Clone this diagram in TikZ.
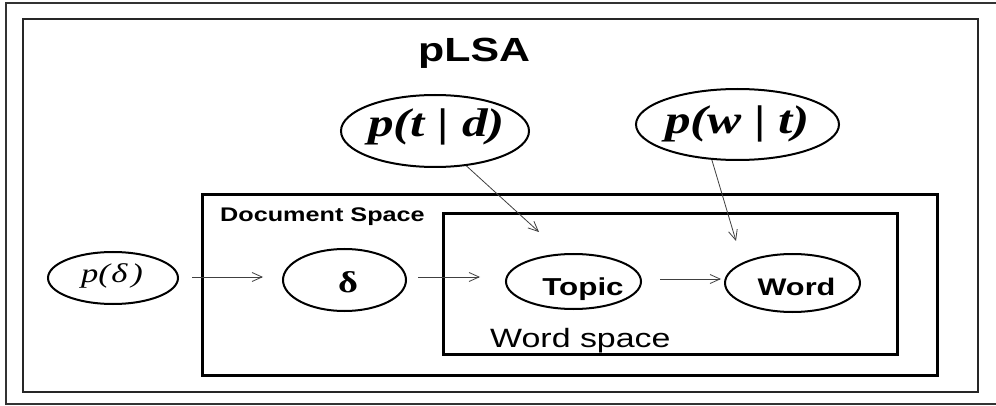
\documentclass[tikz,border=0pt]{standalone}
\usepackage{fontspec}
\usetikzlibrary{shapes.geometric,arrows.meta}
% wide-set faces for the labels
\newfontfamily\sansw{Liberation Sans}[FakeStretch=1.28]
\newfontfamily\serifw{Liberation Serif}[FakeStretch=1.28]
\newcommand{\fsz}[1]{\fontsize{#1}{#1}\selectfont}

\begin{document}
\begin{tikzpicture}[x=1pt,y=-1pt,
  oval/.style={ellipse, draw=black, line width=2pt, inner sep=0pt},
  plate/.style={draw=black, line width=3pt},
  arr/.style={draw=black!75, line width=0.8pt, -{Straight Barb[length=10pt,width=9pt]}},
  lbl/.style={inner sep=0pt, anchor=base},
  lblw/.style={inner sep=0pt, anchor=base west}]
\useasboundingbox (0,0) rectangle (996,406);
\fill[white] (0,0) rectangle (996,406);

% frames
\draw[line width=1.4pt, black!80] (1000,3) -- (6,3) -- (6,404) -- (1000,404);
\draw[line width=1.1pt, black!85] (23,19) rectangle (978,392);

% plates
\draw[plate] (202,195) rectangle (937,375);
\draw[plate] (443,214) rectangle (897,354);

% titles
\node[lblw] (title) at (418,62) {\sansw\bfseries\fsz{33.5}pLSA};
\node[lblw] (docspace) at (220,222) {\sansw\bfseries\fsz{19.7}Document Space};
\node[lblw] (wordspace) at (490,347) {\sansw\fsz{26.5}Word space};

% variables
\node[oval, minimum width=188pt, minimum height=72pt] (ptd) at (435,131) {};
\node[oval, minimum width=203pt, minimum height=71pt] (pwt) at (737.5,124.5) {};
\node[oval, minimum width=130pt, minimum height=52pt] (pd) at (113,278) {};
\node[oval, minimum width=123pt, minimum height=62pt] (delta) at (344.5,280) {};
\node[oval, minimum width=135pt, minimum height=55pt] (topic) at (573.5,281.5) {};
\node[oval, minimum width=135pt, minimum height=58pt] (word) at (792.5,283) {};

\node[lbl] (ptdtext) at (436.5,137) {\serifw\bfseries\itshape\fsz{40}p(t {\upshape|} d)};
\node[lbl] (pwttext) at (737.5,134) {\serifw\bfseries\itshape\fsz{40}p(w {\upshape|} t)};
\node[lbl] (pdtext) at (112,283) {\serifw\itshape\fsz{27}p(\kern1.5pt δ\kern4pt)};
\node[lbl] (deltatext) at (348,292) {\serifw\bfseries\fsz{30}δ};
\node[lbl] (topictext) at (583,295) {\sansw\bfseries\fsz{24.5}Topic};
\node[lbl] (wordtext) at (796.5,295) {\sansw\bfseries\fsz{24}Word};

% dependencies
\coordinate (topicin) at (539,232);
\coordinate (wordin) at (736,241);
\draw[arr, shorten <=13pt, shorten >=19pt] ([yshift=1pt]pd.east) -- ([yshift=3pt]delta.west);
\draw[arr, shorten <=11pt, shorten >=25pt] ([yshift=3pt]delta.east) -- ([yshift=4.5pt]topic.west);
\draw[arr, shorten <=18pt, shorten >=3pt] ([yshift=2.5pt]topic.east) -- ([yshift=4pt]word.west);
\draw[arr] (ptd.-48) -- (topicin);
\draw[arr] (pwt.-126) -- (wordin);
\end{tikzpicture}
\end{document}
